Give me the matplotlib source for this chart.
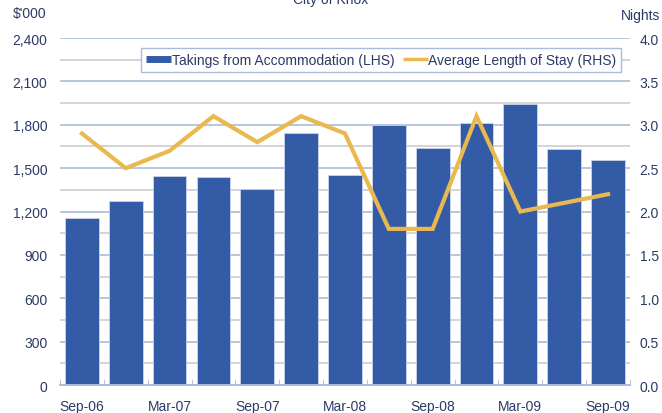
import numpy as np
import matplotlib
matplotlib.use("Agg")
import matplotlib.pyplot as plt
from matplotlib.lines import Line2D
from matplotlib.ticker import FuncFormatter, MultipleLocator

plt.rcParams['font.family'] = ['Liberation Sans', 'DejaVu Sans']

# quarters Sep-06 .. Sep-09
quarters = ["Sep-06", "Dec-06", "Mar-07", "Jun-07", "Sep-07", "Dec-07", "Mar-08",
            "Jun-08", "Sep-08", "Dec-08", "Mar-09", "Jun-09", "Sep-09"]
takings = [1155, 1275, 1445, 1440, 1358, 1740, 1455, 1800, 1637, 1810, 1943, 1635, 1556]
avg_stay = [2.9, 2.5, 2.7, 3.1, 2.8, 3.1, 2.9, 1.8, 1.8, 3.1, 2.0, 2.1, 2.2]

text_col = "#2B3A67"
bar_col = "#345CA6"
line_col = "#E9B84E"

fig = plt.figure(figsize=(6.62, 4.14), dpi=100)
ax = fig.add_axes([0.0906, 0.0676, 0.861, 0.838])
ax2 = ax.twinx()

x = np.arange(len(quarters))

# grid: blue on the major steps, grey in between
for v in np.arange(150, 2401, 150):
    col = "#A9BCD8" if v % 300 == 0 else "#CDCDCD"
    ax.axhline(v, color=col, lw=1.2, zorder=0)

ax.bar(x, takings, width=0.77, color=bar_col, edgecolor="#C9D5EA", linewidth=0.6, zorder=2)
ax2.plot(x, avg_stay, color=line_col, lw=3, solid_joinstyle="miter", zorder=3)

ax.set_xlim(-0.5, len(quarters) - 0.5)
ax.set_ylim(0, 2400)
ax2.set_ylim(0, 4.0)
ax.yaxis.set_major_locator(MultipleLocator(300))
ax.yaxis.set_major_formatter(FuncFormatter(lambda v, p: f"{int(v):,}"))
ax2.yaxis.set_major_locator(MultipleLocator(0.5))
ax2.yaxis.set_major_formatter(FuncFormatter(lambda v, p: f"{v:.1f}"))

ax.set_xticks(x[::2])
ax.set_xticklabels(quarters[::2])
ax.set_xticks(np.arange(-0.5, len(quarters), 1), minor=True)

for a in (ax, ax2):
    for s in ("top", "left", "right"):
        a.spines[s].set_visible(False)
    a.spines["bottom"].set_color("#A9BCD8")
    a.spines["bottom"].set_linewidth(1.2)
    a.tick_params(colors=text_col, labelsize=10, length=0)

ax.tick_params(axis="x", which="minor", direction="in", length=4, color="#A9BCD8")
ax.tick_params(axis="x", which="major", pad=10)
ax.tick_params(axis="y", pad=9)
ax2.tick_params(axis="y", pad=7)

fig.text(0.02, 0.965, "$'000", color=text_col, fontsize=10, va="center")
fig.text(0.997, 0.962, "Nights", color=text_col, fontsize=10, va="center", ha="right")
fig.text(0.5, 1.0, "City of Knox", color=text_col, fontsize=10, ha="center", va="center")

handles = [Line2D([], [], color=bar_col, lw=5, solid_capstyle="butt"),
           Line2D([], [], color=line_col, lw=2.5, solid_capstyle="butt")]
labels = ["Takings from Accommodation (LHS)", "Average Length of Stay (RHS)"]
leg = ax2.legend(handles, labels, loc="upper right", ncol=2, fontsize=10,
                 frameon=True, fancybox=False, borderpad=0.35, handlelength=1.8,
                 columnspacing=0.6, handletextpad=0.05, borderaxespad=0,
                 bbox_to_anchor=(0.985, 0.972))
leg.get_frame().set_edgecolor("#A9BCD8")
leg.get_frame().set_linewidth(1.0)
leg.get_frame().set_alpha(1)
for t in leg.get_texts():
    t.set_color(text_col)

fig.savefig("out.png", dpi=100)
